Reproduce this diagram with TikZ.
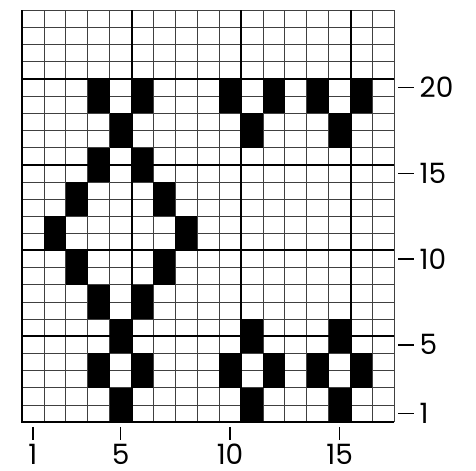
\documentclass[tikz,border=0pt]{standalone}
\usepackage{fontspec}
\setmainfont{Poppins}
\usetikzlibrary{positioning}

\begin{document}
\begin{tikzpicture}[
			x=21.9pt, y=17.15pt,
			font=\fontsize{28}{30}\selectfont,
			thinline/.style={line width=0.7pt,black!75},
			thickline/.style={line width=2pt,black},
			ticks/.style={line width=1.6pt,black},
			rowlab/.style={anchor=west,inner sep=0pt},
			collab/.style={anchor=base,inner sep=0pt},
			]
			\useasboundingbox (-1.0046,-2.799) rectangle (20.73,24.606);
			
			% Thin grid, 17 columns by 24 rows
			\foreach \i in {0,...,17}
				\draw[thinline] (\i,0) -- (\i,24);
			\foreach \j in {0,...,24}
				\draw[thinline] (0,\j) -- (17,\j);
			
			% Black blocks, one column wide and two rows high
			\foreach \r/\cols in {1/{5,11,15}, 3/{4,6,10,12,14,16}, 5/{5,11,15},
				7/{4,6}, 9/{3,7}, 11/{2,8}, 13/{3,7}, 15/{4,6},
				17/{5,11,15}, 19/{4,6,10,12,14,16}}
				\foreach \c in \cols
					\fill[black] (\c-1,\r-1) rectangle (\c,\r+1);
			
			% Heavy lines every five cells
			\foreach \i in {5,10,15}
				\draw[thickline] (\i,0) -- (\i,24);
			\foreach \j in {5,10,15,20}
				\draw[thickline] (0,\j) -- (17,\j);
			\draw[thickline] (0,24) -- (0,0) -- (17,0);
			
			% Row numbers
			\foreach \r in {1,5,10,15,20} {
				\node[rowlab] (lab\r) at (18.15,\r-0.5) {\r};
				\draw[ticks] (17.17,\r-0.5) -- (17.9,\r-0.5);
			}
			
			% Column numbers
			\foreach \c in {1,5,10,15} {
				\node[collab] (col\c) at (\c-0.5,-2.45) {\c};
				\draw[ticks] (\c-0.5,-0.29) -- (\c-0.5,-1.05);
			}
			
		\end{tikzpicture}
\end{document}
